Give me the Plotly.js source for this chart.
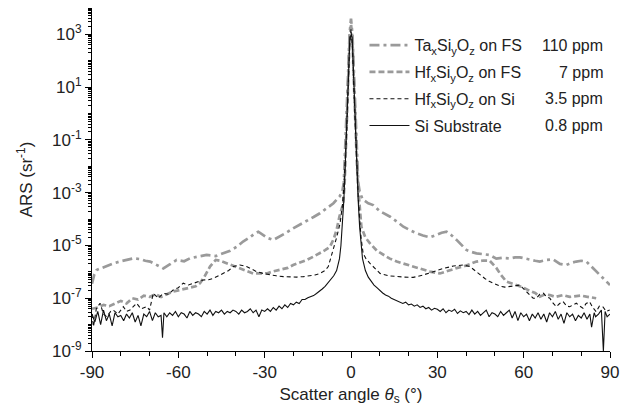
<!DOCTYPE html>
<html><head><meta charset="utf-8">
<script src="https://cdn.plot.ly/plotly-3.0.1.min.js"></script>
<style>body{margin:0;background:#fff}</style>
</head><body><div id="chart" style="width:620px;height:413px"></div>
<script>
const seriesNames = [
  'Ta<sub>x</sub>Si<sub>y</sub>O<sub>z</sub> on FS',
  'Hf<sub>x</sub>Si<sub>y</sub>O<sub>z</sub> on FS',
  'Hf<sub>x</sub>Si<sub>y</sub>O<sub>z</sub> on Si',
  'Si Substrate'
];
const ppmLabels = ['110 ppm', '7 ppm', '3.5 ppm', '0.8 ppm'];

// log10(ARS) values
const taAngle = [-90,-89.2,-88.4,-86,-84,-82.6,-80,-78,-75.6,-73,-71.5,-69.8,-67.5,-65.2,-63,-60.6,-58,-56,-53,-50.2,-47,-44.4,-42,-39.7,-37.5,-35.1,-33.5,-32.2,-30.5,-29,-27,-25,-23,-20.1,-17.5,-15.4,-13,-10.8,-8.5,-6.1,-4,-3,-2.5,-2,-1.5,-1,-0.5,0,0.5,1,1.5,2,2.5,3,4,6,7.7,10,13.6,16,18.2,20.5,22.8,25,27.4,29.7,31.5,33.2,35,36.7,38.5,40.1,42,43.6,46,48.2,50.5,52.5,55.2,57,58.7,60.5,62.1,64,65.6,68,70.2,72.6,74.8,76.5,78.3,80,81.8,83.5,85.2,87.5,90];
const taLog = [-6.45,-6.1,-5.93,-5.82,-5.72,-5.68,-5.6,-5.55,-5.49,-5.52,-5.58,-5.61,-5.75,-5.87,-5.72,-5.55,-5.6,-5.49,-5.42,-5.36,-5.4,-5.3,-5.2,-5.05,-4.85,-4.69,-4.55,-4.48,-4.6,-4.72,-4.79,-4.68,-4.55,-4.35,-4.2,-4.06,-3.92,-3.78,-3.6,-3.4,-3.15,-2.95,-2.6,-1.4,0,1.5,3.0,3.6,3.0,1.5,0,-1.4,-2.6,-2.95,-3.25,-3.4,-3.47,-3.7,-3.91,-4.1,-4.29,-4.42,-4.54,-4.62,-4.69,-4.6,-4.52,-4.48,-4.62,-4.79,-5.0,-5.17,-5.25,-5.3,-5.33,-5.36,-5.5,-5.47,-5.49,-5.45,-5.45,-5.5,-5.55,-5.58,-5.61,-5.55,-5.53,-5.7,-5.74,-5.66,-5.61,-5.58,-5.61,-5.8,-5.99,-6.25,-6.5];

const hfFsAngle = [-90,-88,-86,-84,-82,-80,-78,-76,-74,-72,-70,-68,-66,-64,-62,-60,-58,-56,-54,-52.5,-51,-49,-47,-45.5,-43.2,-41,-38.6,-36,-34,-31,-29.3,-27,-24.7,-22,-20.1,-17.5,-15.4,-13,-10.8,-9,-7.3,-6,-5,-4,-2.7,-2.2,-1.5,-1,-0.5,0,0.5,1,1.5,2,2.5,3,3.6,5,6.6,9,11.2,13.5,15.9,18,20.5,23.9,27.4,30.9,34.4,37,39,41.5,43.6,46,48.2,50.5,52,54,57.5,60,62.1,64,65.6,67.5,69.1,71,73.7,76,78.3,80,81.8,83.5,85.2];
const hfFsLog = [-7.4,-7.35,-7.25,-7.3,-7.2,-7.1,-7.2,-7.0,-7.05,-6.9,-6.95,-6.85,-6.95,-6.85,-6.75,-6.7,-6.65,-6.6,-6.55,-6.43,-6.2,-5.8,-5.55,-5.58,-5.68,-5.78,-5.87,-5.98,-6.06,-6.06,-6.06,-5.98,-5.93,-5.85,-5.74,-5.65,-5.55,-5.42,-5.3,-5.18,-5.05,-4.75,-4.41,-3.9,-3.4,-2.6,-0.5,1.2,2.8,3.4,2.8,1.2,-0.5,-1.8,-2.8,-3.6,-4.29,-4.7,-4.92,-5.2,-5.36,-5.5,-5.61,-5.68,-5.74,-5.87,-5.99,-6.06,-5.93,-5.85,-5.8,-5.7,-5.61,-5.57,-5.58,-5.85,-6.1,-6.37,-6.5,-6.6,-6.72,-6.8,-6.94,-6.85,-6.88,-6.95,-6.88,-6.95,-6.92,-6.9,-6.94,-6.98,-7.0];

const hfSiAngle = [-90,-89.5,-88.5,-87.2,-86,-84.9,-83.5,-82.6,-81,-79.1,-78,-76.8,-75.5,-74.5,-73,-71,-70,-68.7,-67,-65.2,-63.5,-61.8,-60,-58.3,-56.5,-54.8,-53,-51.4,-49.5,-47.9,-46,-44.4,-42.5,-40.9,-38.6,-36.3,-34.5,-32.8,-30.5,-28.2,-26,-23.5,-21,-18.9,-16.5,-14.3,-12.5,-10.8,-9,-7.9,-6.1,-5,-3.8,-3,-2.5,-2,-1.5,-1,-0.5,0,0.5,1,1.5,2,2.5,3,3.5,4.2,5.2,6.6,8.5,10.1,13,15.9,18.5,21.6,23.5,25.1,27,28.6,30.5,32.1,35.6,37.5,39,41.3,43,44.8,46.5,48.2,50,51.7,53.5,55.2,57,58.7,60.5,62.1,63.3,64.4,65.6,66.8,68,69.1,70.3,71.4,72.5,73.7,75,76,77.2,78.3,79.5,80.6,81.7,82.9,84,85.2,86.3,87.5,88.7,89.9];
const hfSiLog = [-7.6,-8.08,-7.4,-7.19,-7.6,-7.7,-7.5,-7.45,-7.6,-7.32,-7.5,-7.45,-7.3,-7.19,-7.4,-7.32,-7.45,-6.81,-7.0,-6.81,-6.85,-6.69,-6.6,-6.43,-6.5,-6.43,-6.38,-6.31,-6.3,-6.25,-6.15,-6.06,-5.95,-5.8,-5.74,-5.8,-5.9,-5.99,-6.06,-6.12,-6.15,-6.18,-6.2,-6.2,-6.18,-6.16,-6.12,-6.06,-5.95,-5.8,-5.17,-4.7,-4.16,-3.5,-2.8,-1.9,-0.7,0.9,2.5,3.2,2.5,0.9,-0.7,-2.0,-3.1,-4.0,-4.7,-5.3,-5.5,-5.68,-5.9,-6.06,-6.15,-6.18,-6.2,-6.21,-6.17,-6.12,-6.05,-5.99,-5.92,-5.87,-5.78,-5.76,-5.74,-5.8,-5.95,-6.12,-6.25,-6.37,-6.45,-6.54,-6.58,-6.56,-6.52,-6.5,-6.7,-6.88,-7.0,-7.0,-6.85,-6.81,-6.95,-7.0,-7.2,-7.32,-7.2,-7.13,-7.3,-7.32,-7.25,-7.19,-7.3,-7.38,-7.2,-7.13,-7.35,-7.51,-7.3,-7.32,-7.5,-7.45];

const siAngle = [-90,-89,-88,-87,-86,-85,-84,-83,-82,-81,-80,-79,-78,-77,-76,-75,-74,-73,-72,-71,-70,-69,-68,-67,-66,-65.5,-65,-64,-63,-62,-61,-60,-59,-58,-57,-56,-55,-54,-53,-52,-51,-50,-49,-48,-47,-46,-45,-44,-43,-42,-41,-40,-39,-38,-37,-36,-35,-34,-33,-32,-31,-30,-29,-28,-27,-26,-25,-24,-23,-22,-21,-20,-19,-18,-17,-16,-15,-14,-13,-12,-11,-10,-9,-8,-7,-6,-5,-4,-3.5,-3,-2.5,-2,-1.5,-1,-0.4,0,0.4,1,1.5,2,2.5,3,3.5,4,5,6,7,8,9,10,11,12,13,14,15,16,17,18,19,20,21,22,23,24,25,26,27,28,29,30,31,32,33,34,35,36,37,38,39,40,41,42,43,44,45,46,47,48,49,50,51,52,53,54,55,56,57,58,59,60,61,62,63,64,65,66,67,68,69,70,71,72,73,74,75,76,77,78,79,80,81,82,83,83.6,84.5,85,86,87,87.7,88.3,89,90];
const siLog = [-7.6,-7.9,-7.5,-8.0,-7.45,-7.85,-7.6,-8.05,-7.55,-7.7,-7.65,-7.85,-7.6,-7.75,-7.55,-7.9,-7.65,-8.05,-7.6,-7.7,-7.5,-7.85,-7.55,-7.7,-7.65,-8.5,-7.55,-7.7,-7.55,-7.65,-7.5,-7.7,-7.55,-7.6,-7.75,-7.5,-7.65,-7.55,-7.6,-7.7,-7.5,-7.6,-7.45,-7.65,-7.5,-7.55,-7.45,-7.6,-7.5,-7.55,-7.45,-7.5,-7.6,-7.45,-7.55,-7.5,-7.4,-7.55,-7.45,-7.7,-7.45,-7.5,-7.4,-7.5,-7.35,-7.45,-7.3,-7.4,-7.25,-7.35,-7.2,-7.25,-7.15,-7.2,-7.05,-7.05,-6.98,-6.95,-6.9,-6.82,-6.75,-6.65,-6.55,-6.42,-6.3,-6.15,-5.95,-5.5,-5.0,-4.3,-3.3,-2.0,-0.5,1.2,2.9,2.95,2.9,1.2,-0.5,-2.0,-3.3,-4.3,-5.0,-5.5,-5.95,-6.2,-6.35,-6.5,-6.6,-6.72,-6.8,-6.88,-6.92,-7.0,-7.05,-7.1,-7.12,-7.2,-7.15,-7.25,-7.22,-7.3,-7.25,-7.35,-7.3,-7.4,-7.35,-7.45,-7.38,-7.42,-7.5,-7.4,-7.55,-7.45,-7.5,-7.42,-7.58,-7.48,-7.55,-7.5,-7.62,-7.45,-7.6,-7.5,-7.65,-7.55,-7.45,-7.7,-7.55,-7.6,-7.7,-7.5,-7.65,-7.55,-7.45,-7.75,-7.5,-7.85,-7.55,-7.7,-7.6,-7.85,-7.6,-7.75,-7.55,-7.8,-7.6,-7.9,-7.55,-7.7,-7.5,-7.8,-7.6,-7.95,-7.55,-7.7,-7.6,-7.85,-7.65,-7.75,-7.55,-7.8,-7.6,-8.1,-7.55,-7.7,-7.6,-7.45,-9.0,-7.5,-7.7,-7.6];

const yTickExp = [-9,-7,-5,-3,-1,1,3];
const yTickText = ['10<sup>-9</sup>','10<sup>-7</sup>','10<sup>-5</sup>','10<sup>-3</sup>','10<sup>-1</sup>','10<sup>1</sup>','10<sup>3</sup>'];
const yMinorDecadeExp = [-8,-6,-4,-2,0,2,4];
const xTickVals = [-90,-60,-30,0,30,60,90];
const xTickText = ['-90','-60','-30','0','30','60','90'];

const toVal = a => a.map(v => Math.pow(10, v));
const majorVals = yTickExp.map(e => Math.pow(10, e));
const minorVals = yMinorDecadeExp.map(e => Math.pow(10, e));
for (let e = -9; e < 4; e++) { for (let k = 2; k <= 9; k++) minorVals.push(k * Math.pow(10, e)); }

const styles = [
  {color:'#9a9a9a', width:2.7, dash:'10px,4px,3px,4px'},
  {color:'#9a9a9a', width:2.7, dash:'6px,3px'},
  {color:'#111', width:1.1, dash:'4px,3px'},
  {color:'#111', width:1.1, dash:'solid'}
];
const xs = [taAngle, hfFsAngle, hfSiAngle, siAngle];
const ys = [taLog, hfFsLog, hfSiLog, siLog];

const data = seriesNames.map((n, i) => ({
  x: xs[i], y: toVal(ys[i]), name: n, type: 'scatter', mode: 'lines',
  line: styles[i], legendgroup: 'g' + i
}));

const axisCommon = {showgrid:false, zeroline:false, showline:true, linecolor:'#000', linewidth:1, tickcolor:'#000'};
const fontFam = '"Liberation Sans", Arial, sans-serif';
const ppmY = [0.892, 0.813, 0.735, 0.656];

const layout = {
  width: 620, height: 413,
  margin: {l:92, r:10, t:8, b:62},
  paper_bgcolor:'#fff', plot_bgcolor:'#fff',
  font: {family: fontFam, color:'#222', size:16},
  showlegend: true,
  legend: {x:0.526, y:0.941, xanchor:'left', yanchor:'top', bgcolor:'rgba(0,0,0,0)',
           font:{size:16, family:fontFam, color:'#222'}, tracegroupgap:3, itemwidth:40},
  xaxis: Object.assign({}, axisCommon, {
    range:[-90,90], tickmode:'array', tickvals:xTickVals, ticktext:xTickText, ticks:'outside', ticklen:6,
    tickfont:{size:17}, minor:{dtick:10, tick0:0, ticks:'outside', ticklen:4, tickcolor:'#000'},
    title:{text:'Scatter angle <i>θ</i><sub>s</sub> (°)', font:{size:17}, standoff:6}
  }),
  xaxis2: Object.assign({}, axisCommon, {
    overlaying:'x', side:'top', anchor:'y', range:[-90,90], tickmode:'array', tickvals:xTickVals,
    ticks:'inside', ticklen:5, showticklabels:false,
    minor:{dtick:10, tick0:0, ticks:'inside', ticklen:3, tickcolor:'#000'}
  }),
  yaxis: Object.assign({}, axisCommon, {
    type:'log', range:[-9,4], tickmode:'array', tickvals:majorVals, ticktext:yTickText,
    ticks:'outside', ticklen:6, tickfont:{size:17},
    minor:{tickmode:'array', tickvals:minorVals, ticks:'outside', ticklen:3, tickcolor:'#000'},
    title:{text:'ARS (sr<sup>-1</sup>)', font:{size:17}, standoff:15}
  }),
  yaxis2: Object.assign({}, axisCommon, {
    type:'log', overlaying:'y', side:'right', anchor:'x', range:[-9,4], tickmode:'array', tickvals:majorVals,
    ticks:'inside', ticklen:5, showticklabels:false,
    minor:{tickmode:'array', tickvals:minorVals, ticks:'inside', ticklen:3, tickcolor:'#000'}
  }),
  annotations: ppmLabels.map((t, i) => ({
    text:t, xref:'paper', yref:'paper', x:0.99, y:ppmY[i], xanchor:'right', yanchor:'middle',
    showarrow:false, font:{size:16, family:fontFam, color:'#222'}
  }))
};

Plotly.newPlot('chart', data, layout, {staticPlot:true, displayModeBar:false});
</script>
</body></html>
